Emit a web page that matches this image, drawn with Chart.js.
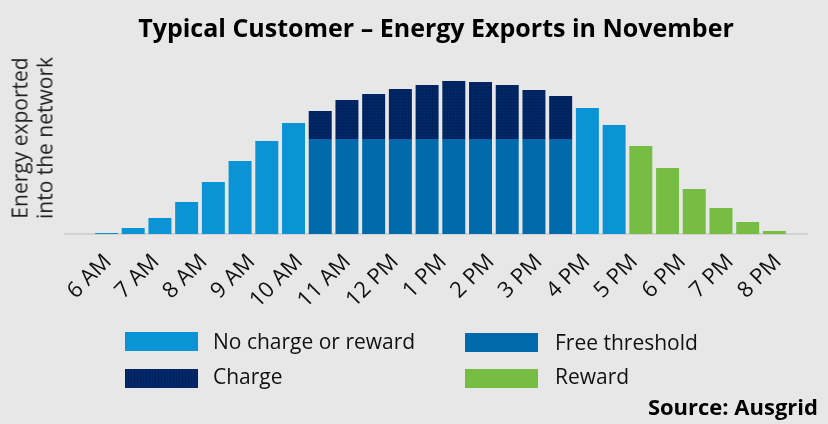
<!DOCTYPE html>
<html><head><meta charset="utf-8">
<script src="https://cdn.jsdelivr.net/npm/chart.js@4.4.0/dist/chart.umd.min.js"></script>
<style>
html,body{margin:0;padding:0;background:#e7e7e7;}
#wrap{position:relative;width:828px;height:424px;overflow:hidden;background:#e7e7e7;}
#c{position:absolute;left:0;top:0;}
.ylab{position:absolute;left:32px;top:138px;width:220px;transform:translate(-50%,-50%) rotate(-90deg);font:21px "Open Sans";line-height:24.5px;text-align:center;color:#222;white-space:nowrap}
.lg{position:absolute;font:21px "Open Sans";color:#111;white-space:nowrap;line-height:21px}
.sw{position:absolute;width:73px;height:19px}
#src{position:absolute;right:10px;top:395px;font:bold 22px "Open Sans";line-height:22px;color:#000;white-space:nowrap}
</style></head>
<body>
<div id="wrap">
<canvas id="c" width="828" height="424"></canvas>
<div class="ylab">Energy exported<br>into the network</div>
<div class="sw" style="left:125px;top:332px;background:#0a94d6"></div>
<div class="lg" style="left:213px;top:331px">No charge or reward</div>
<div class="sw" style="left:465px;top:333px;background:#006aad"></div>
<div class="lg" style="left:555px;top:332px">Free threshold</div>
<div class="sw" style="left:125px;top:369px;background:repeating-linear-gradient(90deg,#00225a 0 1px,#00286a 1px 3px)"></div>
<div class="lg" style="left:213px;top:366px">Charge</div>
<div class="sw" style="left:465px;top:369px;background:#77bd43"></div>
<div class="lg" style="left:555px;top:366px">Reward</div>
<div id="src">Source: Ausgrid</div>
</div>
<script>
// Time slots (one per bar)
const categories = ['6:00','6:34','7:07','7:41','8:14','8:48','9:21','9:55','10:28','11:02','11:35','12:09','12:42',
  '13:16','13:49','14:23','14:56','15:30','16:03','16:37','17:10','17:44','18:17','18:51','19:24','19:58'];
// Axis tick labels
const tickLabels = ['6 AM','7 AM','8 AM','9 AM','10 AM','11 AM','12 PM','1 PM','2 PM','3 PM','4 PM','5 PM','6 PM','7 PM','8 PM'];
// Series values
const noCharge = [0.01,0.06,0.16,0.32,0.52,0.73,0.93,1.11,0,0,0,0,0,0,0,0,0,0,1.26,1.09,0,0,0,0,0,0];
const freeThreshold = [0,0,0,0,0,0,0,0,0.95,0.95,0.95,0.95,0.95,0.95,0.95,0.95,0.95,0.95,0,0,0,0,0,0,0,0];
const charge = [0,0,0,0,0,0,0,0,0.28,0.39,0.45,0.50,0.54,0.58,0.57,0.54,0.49,0.43,0,0,0,0,0,0,0,0];
const reward = [0,0,0,0,0,0,0,0,0,0,0,0,0,0,0,0,0,0,0,0,0.88,0.66,0.45,0.26,0.12,0.03];
const seriesNames = ['No charge or reward','Free threshold','Charge','Reward'];

function chargePattern(){
  const c=document.createElement('canvas'); c.width=3; c.height=3;
  const g=c.getContext('2d');
  g.fillStyle='#00286a'; g.fillRect(0,0,3,3);
  g.fillStyle='#00225a'; g.fillRect(0,0,1,3); g.fillRect(1,0,2,1);
  return g.createPattern(c,'repeat');
}
const pts = arr => arr.map((v,i)=>({x:i,y:v}));
const common = {borderWidth:0, barPercentage:0.86, categoryPercentage:1.0};

new Chart(document.getElementById('c'),{
  type:'bar',
  data:{
    datasets:[
      Object.assign({label:seriesNames[0],data:pts(noCharge),backgroundColor:'#0a94d6'},common),
      Object.assign({label:seriesNames[1],data:pts(freeThreshold),backgroundColor:'#006aad'},common),
      Object.assign({label:seriesNames[2],data:pts(charge),backgroundColor:chargePattern()},common),
      Object.assign({label:seriesNames[3],data:pts(reward),backgroundColor:'#77bd43'},common)
    ]
  },
  options:{
    responsive:false, animation:false, devicePixelRatio:1,
    layout:{padding:{left:65,right:21,top:0,bottom:120}},
    plugins:{
      legend:{display:false},
      tooltip:{callbacks:{title:items=>categories[items[0].parsed.x]}},
      title:{display:true,text:'Typical Customer \u2013 Energy Exports in November',color:'#000',
        font:{family:'Open Sans',weight:'bold',size:25,lineHeight:1.2},padding:{top:15,bottom:19}}
    },
    scales:{
      x:{type:'linear',stacked:true,offset:false,min:-1.553,max:26.22,
        ticks:{display:false},grid:{display:false,drawTicks:false,offset:false},
        border:{display:true,color:'#d2d2d2',width:2},
        afterFit:s=>{s.height=0;}},
      x2:{type:'linear',position:'bottom',offset:false,min:-0.898,max:14.606,
        afterBuildTicks:s=>{s.ticks=tickLabels.map((_,i)=>({value:i}));},
        ticks:{autoSkip:false,minRotation:45,maxRotation:45,padding:15,color:'#111',
          font:{family:'Open Sans',size:22},callback:v=>tickLabels[v]},
        grid:{display:false,drawTicks:false,offset:false},border:{display:false},
        afterFit:s=>{s.height=70;}},
      y:{stacked:true,display:false,min:0,max:1.70}
    }
  }
});
</script>
</body></html>
